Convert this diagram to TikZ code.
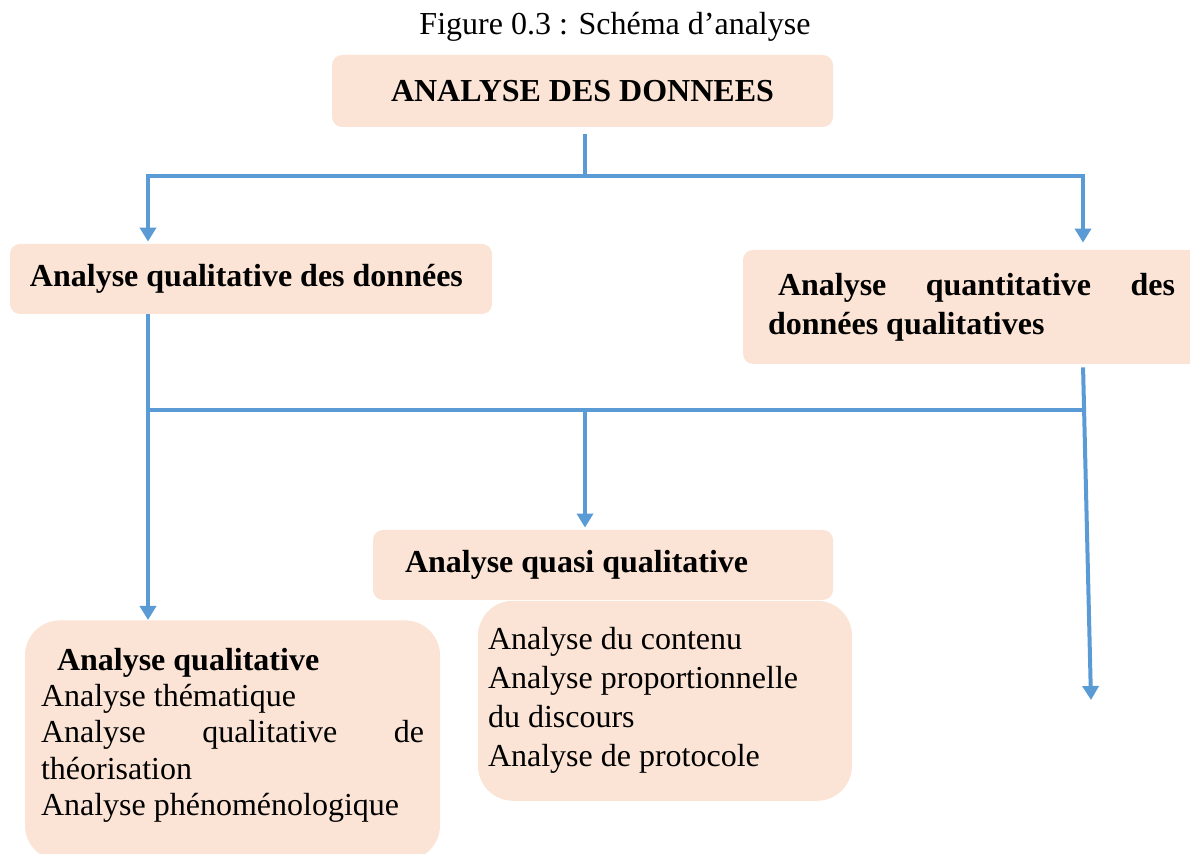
\documentclass[tikz,border=0pt]{standalone}
\usepackage{fontspec}
\setmainfont{Liberation Serif}
\usetikzlibrary{
  positioning,
  arrows.meta,
}
\definecolor{melocoton}{HTML}{FBE4D5}
\definecolor{flecha}{HTML}{5B9BD5}
\hyphenpenalty = 10000
\tolerance = 10000
\tikzset{
  titre/.style = {
    inner sep = 0pt,
    font = \fontsize{16}{18}\selectfont
  },
  box/.style = {
    rectangle,
    fill = melocoton,
    rounded corners = 5pt,
    inner ysep = 0pt,
    font = \bfseries\fontsize{16}{19.5}\selectfont
  },
  boxb/.style = {
    rectangle,
    fill = melocoton,
    rounded corners = 17.5pt,
    inner ysep = 0pt,
    font = \fontsize{16}{#1}\selectfont
  },
  line/.style = {
    line width = 2pt,
    draw = flecha
  },
  con/.style = {
    -{Triangle[width = 8pt, length = 7pt]},
    line width = 2pt,
    draw = flecha
  }
}

\begin{document}
\begin{tikzpicture}[x = 0.5pt, y = -0.5pt]
  \useasboundingbox (0,0) rectangle (1190,854);

  % Titre.
  \node[titre] (fig) at (615,27) {Figure 0.3 : Schéma d’analyse};

  % Analyse des donnees.
  \node[box, minimum width = 250.5pt, minimum height = 36pt] (top) at (582.5,91) {ANALYSE DES DONNEES};

  % Qualitative / quantitative.
  \node[box, text width = 221pt, inner xsep = 10pt, minimum height = 35pt, align = flush left] (qual) at (251,279)
    {Analyse qualitative des données};
  \node[box, text width = 203.5pt, inner xsep = 12.5pt, minimum height = 57pt, align = justify] (quant) at (971.5,307)
    {\hspace*{5pt}Analyse quantitative des données qualitatives};

  % Quasi qualitative.
  \node[box, text width = 198pt, inner xsep = 16pt, minimum height = 35pt, align = flush left] (quasi) at (603,565)
    {Analyse quasi qualitative};
  \node[boxb = 19.5, text width = 177pt, inner xsep = 5pt, minimum height = 100pt, align = flush left] (quasiL)
    [below = 0pt of quasi, xshift = 31pt]
    {Analyse du contenu\\ Analyse proportionnelle\\ du discours\\ Analyse de protocole};

  % Analyse qualitative.
  \node[boxb = 18.2, text width = 191.5pt, inner xsep = 8pt, minimum height = 120pt, align = justify, anchor = north] (qualL)
    at (232.5,620)
    {\hspace*{8pt}\textbf{Analyse qualitative}\\ Analyse thématique\\ Analyse qualitative de théorisation\\
     Analyse phénoménologique\rule[-8.5pt]{0pt}{8.5pt}};

  % Conexions.
  \coordinate (j1) at (585,176);
  \coordinate (j2) at (585,410);
  \coordinate (laneL) at (148,0);
  \coordinate (laneR) at (1083,0);
  \coordinate (suelta) at (1091,700);

  \draw[line, shorten <= 3.5pt] (top.south -| j1) -- (j1);
  \draw[con, shorten >= 1pt] (j1) -| (qual.north -| laneL);
  \draw[con, shorten >= 3.5pt] (j1) -| (quant.north -| laneR);
  \draw[con] (qual.south -| laneL) -- (qualL.north -| laneL);
  \draw[line] (j2 -| laneL) -- (j2 -| laneR);
  \draw[con, shorten >= 1pt] (j2) -- (quasi.north -| j2);
  \draw[con, shorten <= 1.5pt] (quant.south -| laneR) -- (suelta);
\end{tikzpicture}
\end{document}
